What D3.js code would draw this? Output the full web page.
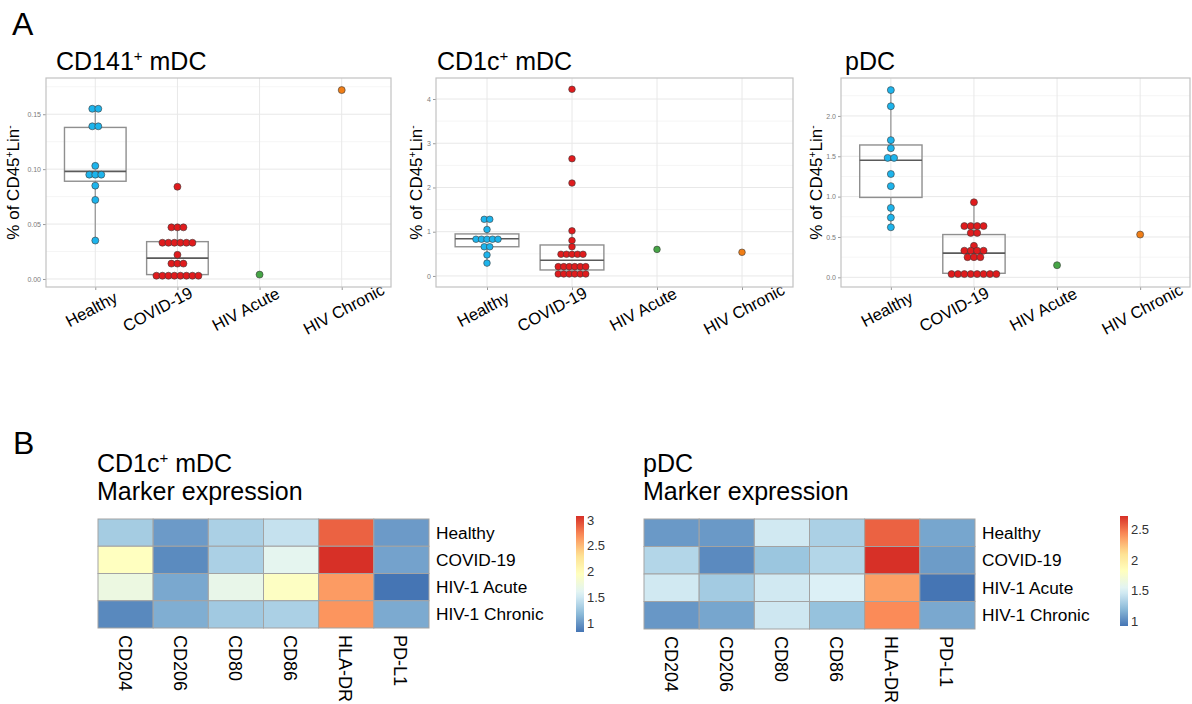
<!DOCTYPE html>
<html>
<head>
<meta charset="utf-8">
<script src="https://cdn.jsdelivr.net/npm/d3@7"></script>
<style>
body{margin:0;background:#fff;}
svg{display:block;font-family:"Liberation Sans",Arial,Helvetica,sans-serif;}
</style>
</head>
<body>
<div id="fig"></div>
<script>
// groups shown on the x axis of the three dot/box plots
var groups = ['Healthy','COVID-19','HIV Acute','HIV Chronic'];
var groupColors = ['#1db4ec','#e01b1d','#46a546','#f07e17'];

// CD141+ mDC, % of CD45+Lin-
var cd141Healthy = [0.155,0.155,0.139,0.139,0.103,0.095,0.095,0.095,0.085,0.072,0.035];
var cd141Covid = [0.084,0.047,0.047,0.047,0.033,0.033,0.033,0.033,0.033,0.033,0.022,
    0.014,0.014,0.014,0.003,0.003,0.003,0.003,0.003,0.003,0.003,0.003];
var cd141Acute = [0.004];
var cd141Chronic = [0.172];
// box stats [q1, median, q3, whisker low, whisker high]
var cd141Box = [[0.089,0.098,0.138,0.035,0.155],[0.004,0.019,0.034,0.003,0.047]];
var cd141Ticks = [0,0.05,0.10,0.15];
var cd141Domain = [-0.0073,0.183];

// CD1c+ mDC
var cd1cHealthy = [1.28,1.28,1.05,0.83,0.83,0.83,0.83,0.83,0.66,0.66,0.475,0.29];
var cd1cCovid = [4.22,2.65,2.10,1.02,0.80,0.66,0.49,0.49,0.49,0.49,0.49,
    0.21,0.21,0.21,0.21,0.21,0.21,0.045,0.045,0.045,0.045,0.045,0.045];
var cd1cAcute = [0.60];
var cd1cChronic = [0.535];
var cd1cBox = [[0.66,0.84,0.95,0.29,1.28],[0.135,0.355,0.70,0.045,1.02]];
var cd1cTicks = [0,1,2,3,4];
var cd1cDomain = [-0.25,4.475];

// pDC
var pdcHealthy = [2.32,2.12,1.70,1.60,1.48,1.48,1.28,1.13,0.86,0.74,0.62];
var pdcCovid = [0.93,0.635,0.635,0.635,0.635,0.55,0.55,0.39,0.33,0.33,0.33,0.33,
    0.25,0.25,0.25,0.04,0.04,0.04,0.04,0.04,0.04,0.04,0.04];
var pdcAcute = [0.15];
var pdcChronic = [0.53];
var pdcBox = [[0.99,1.45,1.64,0.62,2.32],[0.05,0.30,0.53,0.04,0.93]];
var pdcTicks = [0,0.5,1.0,1.5,2.0];
var pdcDomain = [-0.12,2.47];

// heatmaps (marker expression)
var markers = ['CD204','CD206','CD80','CD86','HLA-DR','PD-L1'];
var hmRows = ['Healthy','COVID-19','HIV-1 Acute','HIV-1 Chronic'];
var cd1cExpr = [
    [1.30,1.02,1.33,1.45,2.88,1.02],
    [1.95,0.94,1.33,1.64,3.08,1.06],
    [1.73,1.09,1.68,1.93,2.64,0.83],
    [0.93,1.12,1.28,1.33,2.67,1.10]];
var pdcExpr = [
    [1.08,1.08,1.47,1.33,2.55,1.13],
    [1.36,1.02,1.27,1.36,2.71,1.09],
    [1.47,1.30,1.47,1.51,2.35,0.935],
    [1.07,1.13,1.46,1.25,2.42,1.14]];
var cd1cLegendTicks = [1,1.5,2,2.5,3];
var pdcLegendTicks = [1,1.5,2,2.5];

var rdylbu = ['#4575b4','#91bfdb','#e0f3f8','#ffffbf','#fee090','#fc8d59','#d73027'];

var width = 1192, height = 704;
var svg = d3.select('#fig').append('svg')
    .attr('width',width)
    .attr('height',height);

// text with superscripts, parts = [[string, isSup], ...]
function supText(sel, parts, fs){
    var up = false;
    parts.forEach(function(p){
        var t = sel.append('tspan').text(p[0]);
        if(p[1]){
            t.attr('font-size', fs*0.6).attr('dy', up ? 0 : -fs*0.38);
            up = true;
        } else {
            if(up) t.attr('dy', fs*0.38);
            up = false;
        }
    });
}

// panel letters
svg.append('text').attr('x',12).attr('y',35).attr('font-size',32).text('A');
svg.append('text').attr('x',13).attr('y',454).attr('font-size',32).text('B');

function drawBoxPanel(cfg){
    var top = 78, bottom = 287;
    var g = svg.append('g');
    var x = d3.scalePoint().domain(groups).range([cfg.left,cfg.right]).padding(0.6);
    var y = d3.scaleLinear().domain(cfg.domain).range([bottom,top]);
    var step = x.step();

    g.append('rect')
        .attr('x',cfg.left).attr('y',top)
        .attr('width',cfg.right-cfg.left).attr('height',bottom-top)
        .attr('fill','#fff');

    // minor grid
    var d = cfg.ticks[1]-cfg.ticks[0];
    var minor = d3.range(-1,cfg.ticks.length).map(function(i){return cfg.ticks[0]+d*i+d/2;})
        .filter(function(v){return v>cfg.domain[0] && v<cfg.domain[1];});
    g.selectAll('.minor').data(minor).enter().append('line')
        .attr('x1',cfg.left).attr('x2',cfg.right)
        .attr('y1',function(v){return y(v);}).attr('y2',function(v){return y(v);})
        .attr('stroke','#f3f3f3').attr('stroke-width',0.8);
    g.selectAll('.major').data(cfg.ticks).enter().append('line')
        .attr('x1',cfg.left).attr('x2',cfg.right)
        .attr('y1',function(v){return y(v);}).attr('y2',function(v){return y(v);})
        .attr('stroke','#e8e8e8').attr('stroke-width',1);
    g.selectAll('.vgrid').data(groups).enter().append('line')
        .attr('x1',function(k){return x(k);}).attr('x2',function(k){return x(k);})
        .attr('y1',top).attr('y2',bottom)
        .attr('stroke','#e8e8e8').attr('stroke-width',1);

    // axes
    var ya = g.append('g').attr('transform','translate('+cfg.left+',0)')
        .call(d3.axisLeft(y).tickValues(cfg.ticks).tickFormat(d3.format(cfg.fmt)).tickSize(3).tickPadding(2));
    ya.select('.domain').remove();
    ya.selectAll('line').attr('stroke','#999');
    ya.selectAll('text').attr('fill','#7a7a7a').attr('font-size',7).attr('font-family',null);
    var xa = g.append('g').attr('transform','translate(0,'+bottom+')')
        .call(d3.axisBottom(x).tickSize(3).tickFormat(''));
    xa.select('.domain').remove();
    xa.selectAll('line').attr('stroke','#999');

    var nudge = [-4,-20,-14,2];
    g.selectAll('.xlab').data(groups).enter().append('text')
        .attr('transform',function(k,i){return 'translate('+(x(k)+nudge[i])+',309) rotate(-28)';})
        .attr('text-anchor','middle').attr('dominant-baseline','central')
        .attr('font-size',16.5).text(function(k){return k;});

    g.append('rect')
        .attr('x',cfg.left).attr('y',top)
        .attr('width',cfg.right-cfg.left).attr('height',bottom-top)
        .attr('fill','none').attr('stroke','#c2c2c2').attr('stroke-width',1.2);

    // boxes for Healthy and COVID-19
    var bw = step*0.75;
    cfg.box.forEach(function(b,i){
        var cx = x(groups[i]);
        g.append('line').attr('x1',cx).attr('x2',cx).attr('y1',y(b[2])).attr('y2',y(b[4]))
            .attr('stroke','#999').attr('stroke-width',1.3);
        g.append('line').attr('x1',cx).attr('x2',cx).attr('y1',y(b[0])).attr('y2',y(b[3]))
            .attr('stroke','#999').attr('stroke-width',1.3);
        g.append('rect').attr('x',cx-bw/2).attr('y',y(b[2]))
            .attr('width',bw).attr('height',y(b[0])-y(b[2]))
            .attr('fill','none').attr('stroke','#8f8f8f').attr('stroke-width',1.4);
        g.append('line').attr('x1',cx-bw/2).attr('x2',cx+bw/2).attr('y1',y(b[1])).attr('y2',y(b[1]))
            .attr('stroke','#5a5a5a').attr('stroke-width',1.6);
    });

    // dots, equal values stacked side by side
    cfg.series.forEach(function(vals,i){
        var rows = d3.group(vals,function(v){return v;});
        rows.forEach(function(arr,v){
            arr.forEach(function(_,k){
                g.append('circle')
                    .attr('cx',x(groups[i])+(k-(arr.length-1)/2)*cfg.dotStep)
                    .attr('cy',y(v)).attr('r',cfg.dotR)
                    .attr('fill',groupColors[i])
                    .attr('stroke','#3a3a3a').attr('stroke-width',0.6);
            });
        });
    });

    // titles
    var t = g.append('text').attr('x',cfg.titleX).attr('y',70).attr('font-size',25);
    supText(t, cfg.title, 25);
    var yt = g.append('text')
        .attr('transform','translate('+cfg.ytX+','+((top+bottom)/2)+') rotate(-90)')
        .attr('text-anchor','middle').attr('font-size',17);
    supText(yt, [['% of CD45',0],['+',1],['Lin',0],['-',1]], 17);
}

drawBoxPanel({left:46,right:391,titleX:56,ytX:19,dotR:3.5,dotStep:6.0,
    title:[['CD141',0],['+',1],[' mDC',0]],
    domain:cd141Domain,ticks:cd141Ticks,fmt:'.2f',box:cd141Box,
    series:[cd141Healthy,cd141Covid,cd141Acute,cd141Chronic]});
drawBoxPanel({left:436,right:793,titleX:437,ytX:422,dotR:3.3,dotStep:5.5,
    title:[['CD1c',0],['+',1],[' mDC',0]],
    domain:cd1cDomain,ticks:cd1cTicks,fmt:'d',box:cd1cBox,
    series:[cd1cHealthy,cd1cCovid,cd1cAcute,cd1cChronic]});
drawBoxPanel({left:841,right:1190,titleX:845,ytX:822,dotR:3.5,dotStep:6.4,
    title:[['pDC',0]],
    domain:pdcDomain,ticks:pdcTicks,fmt:'.1f',box:pdcBox,
    series:[pdcHealthy,pdcCovid,pdcAcute,pdcChronic]});

function drawHeatmap(cfg){
    var g = svg.append('g');
    var x = d3.scaleBand().domain(markers).range([cfg.left,cfg.right]);
    var y = d3.scaleBand().domain(hmRows).range([cfg.top,cfg.bottom]);
    var ext = d3.extent(d3.merge(cfg.values));
    var color = d3.scaleLinear()
        .domain(d3.range(7).map(function(i){return ext[0]+i*(ext[1]-ext[0])/6;}))
        .range(rdylbu).interpolate(d3.interpolateRgb);

    var cells = [];
    cfg.values.forEach(function(row,i){
        row.forEach(function(v,j){cells.push({row:hmRows[i],col:markers[j],v:v});});
    });
    g.selectAll('.cell').data(cells).enter().append('rect')
        .attr('x',function(d){return x(d.col);})
        .attr('y',function(d){return y(d.row);})
        .attr('width',x.bandwidth()).attr('height',y.bandwidth())
        .attr('fill',function(d){return color(d.v);})
        .attr('stroke','#a3a3a3').attr('stroke-width',1);

    g.selectAll('.rowlab').data(hmRows).enter().append('text')
        .attr('x',cfg.right+7).attr('y',function(k){return y(k)+y.bandwidth()/2;})
        .attr('dominant-baseline','central').attr('font-size',17.3).text(function(k){return k;});
    g.selectAll('.collab').data(markers).enter().append('text')
        .attr('transform',function(k){return 'translate('+(x(k)+x.bandwidth()/2-7)+','+(cfg.bottom+7)+') rotate(90)';})
        .attr('font-size',18).text(function(k){return k;});

    // colour legend
    var ly = d3.scaleLinear().domain(ext).range([cfg.legBottom,cfg.legTop]);
    var gid = 'grad'+cfg.id;
    var grad = svg.append('defs').append('linearGradient').attr('id',gid)
        .attr('x1',0).attr('y1',1).attr('x2',0).attr('y2',0);
    d3.range(0,1.0001,0.05).forEach(function(f){
        grad.append('stop').attr('offset',f).attr('stop-color',color(ext[0]+f*(ext[1]-ext[0])));
    });
    g.append('rect').attr('x',cfg.legX).attr('y',cfg.legTop)
        .attr('width',8).attr('height',cfg.legBottom-cfg.legTop)
        .attr('fill','url(#'+gid+')');
    g.selectAll('.legtick').data(cfg.legTicks).enter().append('text')
        .attr('x',cfg.legX+11).attr('y',function(v){return ly(v);})
        .attr('dominant-baseline','central').attr('font-size',13).attr('fill','#333')
        .text(function(v){return d3.format('~g')(v);});

    var t1 = g.append('text').attr('x',cfg.left-1).attr('y',472).attr('font-size',25);
    supText(t1, cfg.title, 25);
    g.append('text').attr('x',cfg.left-1).attr('y',500).attr('font-size',25).text('Marker expression');
}

drawHeatmap({id:1,left:98,right:429,top:519,bottom:628,values:cd1cExpr,
    legX:576,legTop:516,legBottom:632,legTicks:cd1cLegendTicks,
    title:[['CD1c',0],['+',1],[' mDC',0]]});
drawHeatmap({id:2,left:644,right:975,top:519,bottom:629,values:pdcExpr,
    legX:1120,legTop:516,legBottom:626,legTicks:pdcLegendTicks,
    title:[['pDC',0]]});
</script>
</body>
</html>
